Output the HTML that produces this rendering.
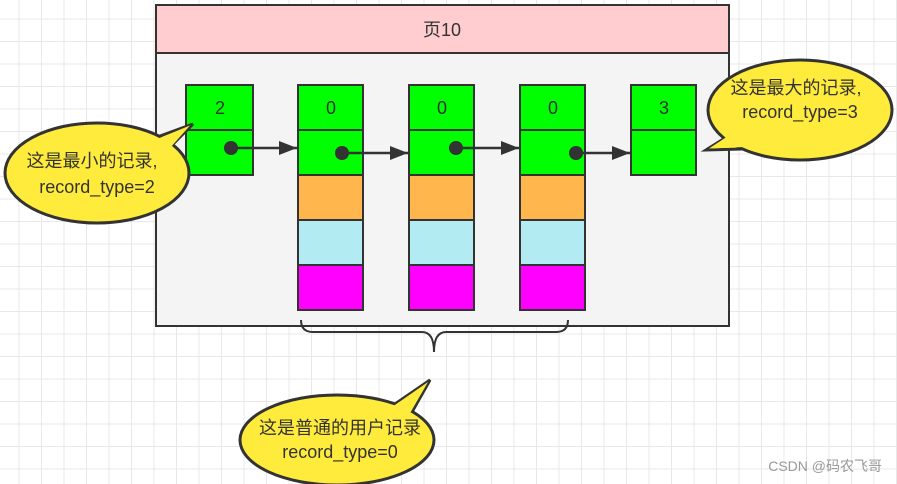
<!DOCTYPE html>
<html><head><meta charset="utf-8"><style>
body{margin:0;width:897px;height:484px;overflow:hidden;background:#fff;
background-image:linear-gradient(#e8e8e8 1px,transparent 1px),linear-gradient(90deg,#e8e8e8 1px,transparent 1px);background-size:22.5px 22.5px;background-position:-4px -4px}
svg{position:absolute;left:0;top:0}
text{font-family:"Liberation Sans","Noto Sans CJK SC",sans-serif;fill:#333}
</style></head><body>
<svg width="897" height="484">
<defs><marker id="a" markerWidth="18" markerHeight="14" refX="18" refY="7" orient="auto" markerUnits="userSpaceOnUse"><path d="M0,0L18,7L0,14z" fill="#333"/></marker></defs>
<rect x="156" y="53" width="573" height="273" fill="#f4f4f4" stroke="#333" stroke-width="2"/>
<rect x="156" y="5" width="573" height="48" fill="#ffccd0" stroke="#333" stroke-width="2"/>
<text x="442" y="36" font-size="18" text-anchor="middle">页10</text>
<g stroke="#333" stroke-width="2">
<rect x="186" y="85" width="67" height="45" fill="#00ff00"/><rect x="186" y="130" width="67" height="45" fill="#00ff00"/>
<g id="c"><rect x="298" y="85" width="65" height="45" fill="#00ff00"/><rect x="298" y="130" width="65" height="45" fill="#00ff00"/><rect x="298" y="175" width="65" height="45" fill="#ffb74d"/><rect x="298" y="220" width="65" height="45" fill="#b2ebf2"/><rect x="298" y="265" width="65" height="45" fill="#ff00ff"/></g>
<use href="#c" x="111"/><use href="#c" x="222"/>
<rect x="631" y="85" width="65" height="45" fill="#00ff00"/><rect x="631" y="130" width="65" height="45" fill="#00ff00"/>
<g stroke-width="2.5">
<line x1="231" y1="148" x2="297" y2="148" marker-end="url(#a)"/>
<line x1="342" y1="153" x2="408" y2="153" marker-end="url(#a)"/>
<line x1="456" y1="148" x2="519" y2="148" marker-end="url(#a)"/>
<line x1="576" y1="153" x2="630" y2="153" marker-end="url(#a)"/>
</g>
<path d="M301,320 q0,12 12,12 h109 q12,0 12,20 q0,-20 12,-20 h110 q12,0 12,-12" fill="none"/>
</g>
<g fill="#333"><circle cx="231" cy="148" r="7"/><circle cx="342" cy="153" r="7"/><circle cx="456" cy="148" r="7"/><circle cx="576" cy="153" r="7"/></g>
<g font-size="18" text-anchor="middle"><text x="220" y="114">2</text><text x="331" y="114">0</text><text x="442" y="114">0</text><text x="553" y="114">0</text><text x="664" y="114">3</text></g>
<g fill="#ffeb3b" stroke="#333" stroke-width="3" stroke-linejoin="miter">
<polygon points="160,136 193,124 172,145"/>
<ellipse cx="97" cy="173" rx="92" ry="50"/>
<polygon points="725,138 706,150 742,149"/>
<ellipse cx="800" cy="110" rx="92" ry="50"/>
<polygon points="395,404 430,380 412,412"/>
<ellipse cx="337" cy="440" rx="97" ry="45"/>
</g>
<g fill="#ffeb3b">
<polygon points="157,139 190,125.5 170,148"/>
<polygon points="728,136 709,148.5 744,147"/>
<polygon points="392,407 428,382 409,415"/>
</g>
<g font-size="18" text-anchor="middle">
<text x="92" y="167">这是最小的记录,</text><text x="97" y="193">record_type=2</text>
<text x="796" y="94">这是最大的记录,</text><text x="800" y="118">record_type=3</text>
<text x="340" y="434">这是普通的用户记录</text><text x="340" y="458">record_type=0</text>
</g>
<text x="882" y="471" font-size="14" text-anchor="end" style="fill:#999">CSDN @码农飞哥</text>
</svg>
</body></html>
